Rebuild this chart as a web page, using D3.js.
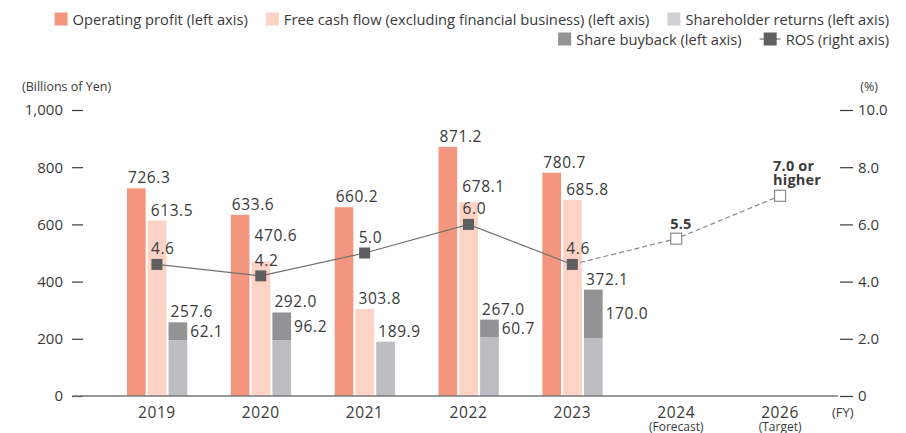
<!DOCTYPE html>
<html>
<head>
<meta charset="utf-8">
<script src="https://cdn.jsdelivr.net/npm/d3@7"></script>
<style>
  body { margin: 0; background: #fff; }
  svg { display: block; font-family: "Open Sans", sans-serif; }
  text { fill: #3a3a3a; }
</style>
</head>
<body>
<svg id="chart" width="906" height="433"></svg>
<script>
// ---- data ----
var years = ['2019', '2020', '2021', '2022', '2023', '2024', '2026'];
var yearNotes = ['', '', '', '', '', '(Forecast)', '(Target)'];
var operatingProfit = [726.3, 633.6, 660.2, 871.2, 780.7, null, null];
var freeCashFlow = [613.5, 470.6, 303.8, 678.1, 685.8, null, null];
var shareholderReturns = [257.6, 292.0, 189.9, 267.0, 372.1, null, null];
var shareBuyback = [62.1, 96.2, null, 60.7, 170.0, null, null];
var ros = [4.6, 4.2, 5.0, 6.0, 4.6, 5.5, 7.0];
var rosLabels = ['4.6', '4.2', '5.0', '6.0', '4.6', '5.5', '7.0 or|higher'];
var rosPlanned = [false, false, false, false, false, true, true];
var leftTicks = [0, 200, 400, 600, 800, 1000];
var rightTicks = [0, 2, 4, 6, 8, 10];

var colors = {
  op: '#f4957f',
  fcf: '#fcd3c5',
  div: '#bdbdc1',
  buy: '#939396',
  ros: '#5f5f62'
};

// labels that were moved by hand in the original to avoid the ROS numbers
var labelNudge = { 'fcf-2020': -15, 'fcf-2022': -5 };

var svg = d3.select('#chart');

var x = d3.scaleBand().domain(years).range([105, 832]);
var yL = d3.scaleLinear().domain([0, 1000]).range([396, 110]);
var yR = d3.scaleLinear().domain([0, 10]).range([396, 110]);

var barW = 18.7, pitch = 20.8;
function cx(i) { return x(years[i]) + x.bandwidth() / 2; }

// ---- axes ----
var gl = svg.append('g').attr('transform', 'translate(83,0)')
  .call(d3.axisLeft(yL).tickValues(leftTicks).tickSize(11).tickPadding(9).tickFormat(d3.format(',')));
var gr = svg.append('g').attr('transform', 'translate(840,0)')
  .call(d3.axisRight(yR).tickValues(rightTicks).tickSize(13).tickPadding(5)
    .tickFormat(function(d) { return d === 0 ? '0' : d.toFixed(1); }));
[gl, gr].forEach(function(g) {
  g.select('.domain').remove();
  g.selectAll('.tick line').attr('stroke', '#3a3a3a').attr('stroke-width', 1.2);
  g.selectAll('.tick text').attr('font-size', 15).attr('font-family', '"Open Sans", sans-serif').attr('fill', '#3a3a3a');
});

svg.append('text').attr('x', 22).attr('y', 91).attr('font-size', 12.5).text('(Billions of Yen)');
svg.append('text').attr('x', 878).attr('y', 91).attr('font-size', 12.5).attr('text-anchor', 'end').text('(%)');

// ---- bars ----
var rows = years.map(function(y, i) {
  return { year: y, i: i, op: operatingProfit[i], fcf: freeCashFlow[i],
    sr: shareholderReturns[i], buy: shareBuyback[i] };
}).filter(function(d) { return d.op != null; });

var bars = svg.append('g');
bars.selectAll('.op').data(rows).enter().append('rect')
  .attr('x', function(d) { return cx(d.i) - 30; })
  .attr('y', function(d) { return yL(d.op); })
  .attr('width', barW)
  .attr('height', function(d) { return yL(0) - yL(d.op); })
  .attr('fill', colors.op);
bars.selectAll('.fcf').data(rows).enter().append('rect')
  .attr('x', function(d) { return cx(d.i) - 30 + pitch; })
  .attr('y', function(d) { return yL(d.fcf); })
  .attr('width', barW)
  .attr('height', function(d) { return yL(0) - yL(d.fcf); })
  .attr('fill', colors.fcf);
// shareholder returns: dividends part below, buyback part on top
bars.selectAll('.div').data(rows).enter().append('rect')
  .attr('x', function(d) { return cx(d.i) - 30 + 2 * pitch; })
  .attr('y', function(d) { return yL(d.sr - (d.buy || 0)); })
  .attr('width', barW)
  .attr('height', function(d) { return yL(0) - yL(d.sr - (d.buy || 0)); })
  .attr('fill', colors.div);
bars.selectAll('.buy').data(rows.filter(function(d) { return d.buy; })).enter().append('rect')
  .attr('x', function(d) { return cx(d.i) - 30 + 2 * pitch; })
  .attr('y', function(d) { return yL(d.sr); })
  .attr('width', barW)
  .attr('height', function(d) { return yL(d.sr - d.buy) - yL(d.sr); })
  .attr('fill', colors.buy);

// baseline
svg.append('line').attr('x1', 73).attr('x2', 838).attr('y1', yL(0)).attr('y2', yL(0))
  .attr('stroke', '#777').attr('stroke-width', 1.5);

// ---- bar labels ----
var labels = svg.append('g').attr('font-size', 15.5).attr('letter-spacing', 0.6);
rows.forEach(function(d) {
  var x0 = cx(d.i) - 30;
  labels.append('text').attr('x', x0 + 1).attr('y', yL(d.op) - 5).text(d.op.toFixed(1));
  labels.append('text').attr('x', x0 + pitch + 3)
    .attr('y', yL(d.fcf) - 5 + (labelNudge['fcf-' + d.year] || 0)).text(d.fcf.toFixed(1));
  labels.append('text').attr('x', x0 + 2 * pitch + 2).attr('y', yL(d.sr) - 5).text(d.sr.toFixed(1));
  if (d.buy) {
    labels.append('text').attr('x', x0 + 2 * pitch + barW + 3)
      .attr('y', (yL(d.sr) + yL(d.sr - d.buy)) / 2 + 5.5).text(d.buy.toFixed(1));
  }
});

// ---- ROS line ----
var pts = ros.map(function(v, i) { return [cx(i), yR(v)]; });
var line = d3.line();
var lastActual = rosPlanned.indexOf(true) - 1;
svg.append('path').attr('d', line(pts.slice(0, lastActual + 1)))
  .attr('fill', 'none').attr('stroke', '#707070').attr('stroke-width', 1.2);
svg.append('path').attr('d', line(pts.slice(lastActual)))
  .attr('fill', 'none').attr('stroke', '#8a8a8a').attr('stroke-width', 1.2).attr('stroke-dasharray', '5,3');

var m = 11;
svg.append('g').selectAll('rect').data(pts).enter().append('rect')
  .attr('x', function(p) { return p[0] - m / 2; })
  .attr('y', function(p) { return p[1] - m / 2; })
  .attr('width', m).attr('height', m)
  .attr('fill', function(p, i) { return rosPlanned[i] ? '#fff' : colors.ros; })
  .attr('stroke', function(p, i) { return rosPlanned[i] ? '#8a8a8a' : 'none'; })
  .attr('stroke-width', 1.2);

var rl = svg.append('g');
pts.forEach(function(p, i) {
  var parts = rosLabels[i].split('|');
  var t = rl.append('text').attr('x', p[0] - 6)
    .attr('font-size', rosPlanned[i] ? 14.5 : 15.5)
    .attr('font-weight', rosPlanned[i] ? 'bold' : 'normal')
    .attr('letter-spacing', rosPlanned[i] ? 0.2 : 0.6);
  if (parts.length === 1) {
    t.attr('y', p[1] - 10).text(parts[0]);
  } else {
    t.attr('y', p[1] - 25);
    parts.forEach(function(s, k) {
      t.append('tspan').attr('x', p[0] - 7).attr('dy', k === 0 ? 0 : 14).text(s);
    });
  }
});

// ---- x labels ----
var xl = svg.append('g').attr('text-anchor', 'middle');
years.forEach(function(y, i) {
  xl.append('text').attr('x', cx(i)).attr('y', 418).attr('font-size', 15.5).attr('letter-spacing', 0.6).text(y);
  if (yearNotes[i]) {
    xl.append('text').attr('x', cx(i)).attr('y', 431).attr('font-size', 12).text(yearNotes[i]);
  }
});
svg.append('text').attr('x', 832).attr('y', 417).attr('font-size', 13).text('(FY)');

// ---- legend (right aligned, two rows) ----
var legendRows = [
  [{ label: 'Operating profit (left axis)', color: colors.op },
   { label: 'Free cash flow (excluding financial business) (left axis)', color: colors.fcf },
   { label: 'Shareholder returns (left axis)', color: '#d0d0d2' }],
  [{ label: 'Share buyback (left axis)', color: colors.buy },
   { label: 'ROS (right axis)', color: colors.ros, marker: true }]
];
var lg = svg.append('g').attr('font-size', 14.7);
legendRows.forEach(function(items, r) {
  var right = 889, baseY = 25 + r * 20;
  for (var k = items.length - 1; k >= 0; k--) {
    var it = items[k];
    var t = lg.append('text').attr('x', right).attr('y', baseY).attr('text-anchor', 'end').text(it.label);
    var w = t.node().getComputedTextLength();
    var left = right - w;
    if (it.marker) {
      lg.append('line').attr('x1', left - 26).attr('x2', left - 5).attr('y1', baseY - 6).attr('y2', baseY - 6)
        .attr('stroke', '#707070').attr('stroke-width', 1.2);
      lg.append('rect').attr('x', left - 22).attr('y', baseY - 12.5).attr('width', 13).attr('height', 13).attr('fill', it.color);
      right = left - 26 - 18;
    } else {
      lg.append('rect').attr('x', left - 18).attr('y', baseY - 12.5).attr('width', 13).attr('height', 13).attr('fill', it.color);
      right = left - 18 - 18;
    }
  }
});
</script>
</body>
</html>
